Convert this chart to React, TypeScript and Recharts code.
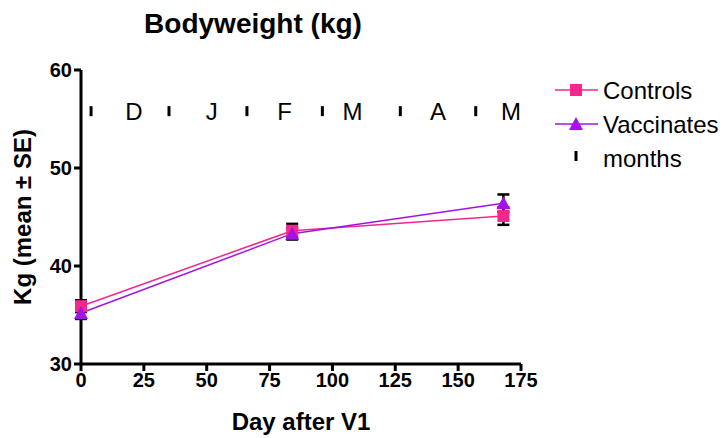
import React from "react";
import {
  ComposedChart,
  Line,
  Scatter,
  XAxis,
  YAxis,
  ErrorBar,
} from "recharts";

// Study days and group means ± SE
const days = [0, 84, 168];
const controlsMean = [35.9, 43.6, 45.1];
const controlsSE = [0.6, 0.7, 0.9];
const vaccinatesMean = [35.2, 43.3, 46.4];
const vaccinatesSE = [0.6, 0.6, 0.9];

// Month boundaries and month initials along the top band
const monthTickDays = [4, 35, 66, 96, 127, 157];
const monthLabelDays = [21, 52, 81, 108, 142, 171];
const monthLetters = ["D", "J", "F", "M", "A", "M"];
const monthRowValue = 55.8;

const xTicks = [0, 25, 50, 75, 100, 125, 150, 175];
const yTicks = [30, 40, 50, 60];

const CONTROLS_COLOR = "#F5268C";
const VACCINATES_COLOR = "#A412E8";
const FONT = "'Liberation Sans', Arial, sans-serif";

const controlsData = days.map((d, i) => ({
  day: d,
  value: controlsMean[i],
  se: controlsSE[i],
}));
const vaccinatesData = days.map((d, i) => ({
  day: d,
  value: vaccinatesMean[i],
  se: vaccinatesSE[i],
}));
const monthTicks = monthTickDays.map((d) => ({ day: d, value: monthRowValue }));
const monthLabels = monthLabelDays.map((d, i) => ({
  day: d,
  value: monthRowValue,
  letter: monthLetters[i],
}));

const SquareDot = (props: any) => {
  const { cx, cy, fill } = props;
  if (cx == null || cy == null) return null;
  return <rect x={cx - 6} y={cy - 6} width={12} height={12} fill={fill} />;
};

const TriangleDot = (props: any) => {
  const { cx, cy, fill } = props;
  if (cx == null || cy == null) return null;
  return (
    <polygon
      points={`${cx},${cy - 7} ${cx + 7},${cy + 6} ${cx - 7},${cy + 6}`}
      fill={fill}
    />
  );
};

const MonthTick = (props: any) => {
  const { cx, cy } = props;
  if (cx == null || cy == null) return null;
  return <rect x={cx - 1.5} y={cy - 5} width={3} height={10} fill="#000" />;
};

const MonthLetter = (props: any) => {
  const { cx, cy, payload } = props;
  if (cx == null || cy == null) return null;
  return (
    <text
      x={cx}
      y={cy}
      textAnchor="middle"
      dominantBaseline="central"
      fontFamily={FONT}
      fontSize={24}
      fill="#000"
    >
      {payload.letter}
    </text>
  );
};

const legendItems = [
  { label: "Controls", color: CONTROLS_COLOR, kind: "square" },
  { label: "Vaccinates", color: VACCINATES_COLOR, kind: "triangle" },
  { label: "months", color: "#000", kind: "tick" },
];

const LegendBlock = () => (
  <g>
    {legendItems.map((it, i) => {
      const y = 90 + i * 34;
      const mx = 576;
      return (
        <g key={it.label}>
          {it.kind !== "tick" && (
            <line x1={555} x2={598} y1={y} y2={y} stroke={it.color} strokeWidth={1.5} />
          )}
          {it.kind === "square" && (
            <rect x={mx - 6} y={y - 6} width={12} height={12} fill={it.color} />
          )}
          {it.kind === "triangle" && (
            <polygon
              points={`${mx},${y - 7} ${mx + 7},${y + 6} ${mx - 7},${y + 6}`}
              fill={it.color}
            />
          )}
          {it.kind === "tick" && (
            <rect x={mx - 1.5} y={y - 7} width={3} height={10} fill="#000" />
          )}
          <text
            x={603}
            y={y}
            dominantBaseline="central"
            fontFamily={FONT}
            fontSize={24}
            fill="#000"
          >
            {it.label}
          </text>
        </g>
      );
    })}
  </g>
);

const tickStyle = { fontFamily: FONT, fontSize: 20, fontWeight: 700, fill: "#000" };

export default function App() {
  return (
    <div style={{ position: "absolute", left: 0, top: 0, width: 724, height: 438, background: "#fff" }}>
      <ComposedChart
        width={724}
        height={438}
        margin={{ top: 70, right: 203, left: 0, bottom: 0 }}
      >
        <text
          x={253}
          y={23}
          textAnchor="middle"
          dominantBaseline="central"
          fontFamily={FONT}
          fontSize={28}
          fontWeight={700}
          fill="#000"
        >
          Bodyweight (kg)
        </text>
        <LegendBlock />
        <XAxis
          dataKey="day"
          type="number"
          domain={[0, 175]}
          ticks={xTicks}
          allowDuplicatedCategory={false}
          height={74}
          axisLine={{ stroke: "#000", strokeWidth: 3 }}
          tickLine={{ stroke: "#000", strokeWidth: 3 }}
          tickSize={7}
          tick={tickStyle}
          label={{
            value: "Day after V1",
            position: "insideBottom",
            offset: 8,
            style: { fontFamily: FONT, fontSize: 24, fontWeight: 700, fill: "#000" },
          }}
        />
        <YAxis
          type="number"
          domain={[30, 60]}
          ticks={yTicks}
          width={81}
          axisLine={{ stroke: "#000", strokeWidth: 3 }}
          tickLine={{ stroke: "#000", strokeWidth: 3 }}
          tickSize={7}
          tick={tickStyle}
          label={{
            value: "Kg (mean ± SE)",
            angle: -90,
            position: "insideLeft",
            offset: 22,
            style: { textAnchor: "middle", fontFamily: FONT, fontSize: 24, fontWeight: 700, fill: "#000" },
          }}
        />
        <Scatter data={monthTicks} dataKey="value" shape={MonthTick} isAnimationActive={false} legendType="none" />
        <Scatter data={monthLabels} dataKey="value" shape={MonthLetter} isAnimationActive={false} legendType="none" />
        <Line
          data={controlsData}
          dataKey="value"
          stroke={CONTROLS_COLOR}
          strokeWidth={1.5}
          dot={<SquareDot fill={CONTROLS_COLOR} />}
          activeDot={false}
          isAnimationActive={false}
        >
          <ErrorBar dataKey="se" width={6} stroke="#000" strokeWidth={2.5} direction="y" />
        </Line>
        <Line
          data={vaccinatesData}
          dataKey="value"
          stroke={VACCINATES_COLOR}
          strokeWidth={1.5}
          dot={<TriangleDot fill={VACCINATES_COLOR} />}
          activeDot={false}
          isAnimationActive={false}
        >
          <ErrorBar dataKey="se" width={6} stroke="#000" strokeWidth={2.5} direction="y" />
        </Line>
      </ComposedChart>
    </div>
  );
}
